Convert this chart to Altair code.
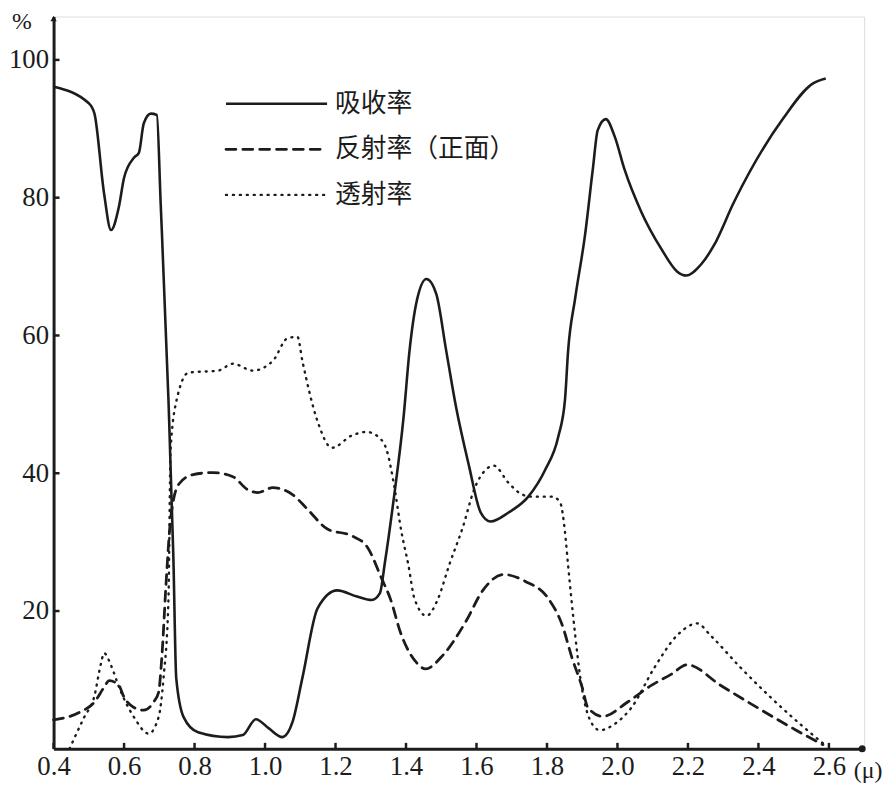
import altair as alt
import pandas as pd

# ---- data ----
abs_x = [0.40, 0.50, 0.516, 0.543, 0.563, 0.585, 0.600, 0.628, 0.642, 0.656, 0.676, 0.693,
         0.704, 0.726, 0.740, 0.748, 0.769, 0.810, 0.895, 0.937, 0.974, 1.010, 1.049, 1.078,
         1.106, 1.149, 1.205, 1.261, 1.303, 1.326, 1.340, 1.365, 1.393, 1.410, 1.430, 1.458,
         1.486, 1.514, 1.542, 1.579, 1.612, 1.640, 1.691, 1.747, 1.795, 1.832, 1.851, 1.860,
         1.880, 1.908, 1.930, 1.944, 1.967, 1.992, 2.020, 2.068, 2.124, 2.169, 2.195,
         2.237, 2.274, 2.330, 2.470, 2.555, 2.591]
abs_y = [96.1, 93.7, 92.2, 80.7, 75.3, 78.6, 82.9, 85.8, 86.5, 90.8, 92.2, 92.0,
         79.0, 50.6, 27.6, 10.3, 4.6, 2.4, 1.7, 2.0, 4.3, 3.0, 1.7, 3.9,
         10.3, 20.4, 23.0, 22.1, 21.6, 22.6, 27.0, 36.2, 48.1, 57.8, 64.9, 68.2,
         66.0, 57.8, 49.6, 41.0, 34.3, 33.0, 34.3, 36.6, 40.5, 45.3, 50.6, 57.8,
         65.4, 74.6, 84.1, 89.8, 91.4, 88.9, 84.1, 77.9, 72.6, 69.3, 68.7,
         70.3, 73.1, 79.3, 91.5, 96.6, 97.3]

ref_x = [0.40, 0.474, 0.516, 0.543, 0.558, 0.585, 0.600, 0.628, 0.656, 0.684, 0.698, 0.707,
         0.720, 0.732, 0.755, 0.796, 0.853, 0.909, 0.951, 0.979, 1.022, 1.078, 1.120, 1.177,
         1.247, 1.290, 1.331, 1.354, 1.387, 1.430, 1.455, 1.505, 1.570, 1.618, 1.677, 1.739,
         1.804, 1.843, 1.871, 1.900, 1.916, 1.958, 2.029, 2.096, 2.152, 2.198, 2.293, 2.406,
         2.507, 2.583]
ref_y = [4.2, 5.3, 6.8, 8.9, 9.9, 9.2, 7.5, 6.0, 5.6, 6.8, 8.2, 13.2,
         24.7, 33.3, 38.4, 39.8, 40.1, 39.5, 37.6, 37.2, 37.9, 36.9, 34.8, 31.9,
         30.9, 29.3, 24.7, 22.0, 16.5, 12.5, 11.6, 13.6, 18.5, 23.0, 25.3, 24.3,
         21.8, 18.0, 13.2, 8.9, 6.0, 4.7, 6.8, 9.2, 10.8, 12.2, 9.2, 5.7,
         2.7, 0.6]

tra_x = [0.445, 0.487, 0.515, 0.535, 0.543, 0.563, 0.586, 0.628, 0.670, 0.698, 0.712, 0.726,
         0.732, 0.749, 0.783, 0.867, 0.909, 0.965, 1.022, 1.064, 1.092, 1.106, 1.148, 1.190,
         1.247, 1.289, 1.331, 1.345, 1.365, 1.387, 1.407, 1.424, 1.458, 1.491, 1.522, 1.562,
         1.593, 1.626, 1.649, 1.691, 1.730, 1.759, 1.815, 1.837, 1.851, 1.860, 1.874, 1.900,
         1.922, 1.950, 1.992, 2.040, 2.105, 2.170, 2.226, 2.265, 2.349, 2.434, 2.518, 2.588]
tra_y = [0.0, 4.6, 7.5, 12.5, 13.9, 12.1, 8.9, 4.6, 2.2, 4.6, 10.3, 21.8,
         43.4, 50.6, 54.6, 54.9, 55.9, 54.9, 56.3, 59.6, 59.8, 56.3, 47.7, 43.7,
         45.5, 46.0, 44.8, 43.4, 38.6, 31.5, 26.6, 21.8, 19.3, 21.8, 26.6, 32.3,
         37.6, 40.5, 41.1, 38.6, 36.9, 36.6, 36.6, 35.8, 31.5, 26.6, 19.4, 8.5,
         4.2, 2.7, 3.6, 6.0, 11.8, 16.5, 18.2, 16.4, 11.8, 7.5, 3.6, 0.6]

series_names = ["吸收率", "反射率（正面）", "透射率"]
x_ticks = [0.4, 0.6, 0.8, 1.0, 1.2, 1.4, 1.6, 1.8, 2.0, 2.2, 2.4, 2.6]
y_ticks = [20, 40, 60, 80, 100]
y_unit = "%"
x_unit = "(μ)"

# ---- layout ----
W, H = 818, 739
X_DOM = [0.4, 2.7]
Y_DOM = [0, 106.3]
INK = "#1c1c1c"
NUM_FONT = "'Liberation Serif', 'DejaVu Serif', serif"
CJK_FONT = "Noto Sans CJK SC"

xs = alt.Scale(domain=X_DOM, nice=False, zero=False)
ys = alt.Scale(domain=Y_DOM, nice=False, zero=False)

def series_chart(xv, yv, dash, width):
    df = pd.DataFrame({"x": xv, "y": yv})
    mark_kwargs = dict(color=INK, strokeWidth=width, interpolate="monotone")
    if dash:
        mark_kwargs["strokeDash"] = dash
        mark_kwargs["strokeCap"] = "round"
    return alt.Chart(df).mark_line(**mark_kwargs).encode(
        x=alt.X("x:Q", scale=xs,
                axis=alt.Axis(values=x_ticks, format=".1f", title=None, grid=False,
                              ticks=False, domainColor=INK, domainWidth=3,
                              labelFont=NUM_FONT, labelFontSize=27, labelColor=INK,
                              labelPadding=5, labelFlush=False)),
        y=alt.Y("y:Q", scale=ys,
                axis=alt.Axis(values=y_ticks, title=None, grid=False, ticks=False,
                              domainColor=INK, domainWidth=3,
                              labelFont=NUM_FONT, labelFontSize=27, labelColor=INK,
                              labelPadding=5)),
    )

absorb = series_chart(abs_x, abs_y, None, 2.6)
reflect = series_chart(ref_x, ref_y, [10, 7], 2.8)
trans = series_chart(tra_x, tra_y, [1, 6], 2.4)

# inside tick marks
xt = alt.Chart(pd.DataFrame({"x": x_ticks})).mark_rule(color=INK, strokeWidth=2.5).encode(
    x=alt.X("x:Q", scale=xs), y=alt.value(H), y2=alt.value(H - 6))
yt = alt.Chart(pd.DataFrame({"y": y_ticks})).mark_rule(color=INK, strokeWidth=2.5).encode(
    y=alt.Y("y:Q", scale=ys), x=alt.value(0), x2=alt.value(6))

one = pd.DataFrame({"a": [0]})
arrow_up = alt.Chart(one).mark_point(shape="triangle-up", filled=True, size=40,
                                     color=INK, opacity=1).encode(
    x=alt.value(0), y=alt.value(2))
arrow_right = alt.Chart(one).mark_point(shape="circle", filled=True, size=50,
                                        color=INK, opacity=1).encode(
    x=alt.value(W - 2), y=alt.value(H))

unit_y = alt.Chart(pd.DataFrame({"t": [y_unit]})).mark_text(
    font=NUM_FONT, fontSize=24, color=INK, align="center", baseline="middle").encode(
    text="t:N", x=alt.value(-32), y=alt.value(6))
unit_x = alt.Chart(pd.DataFrame({"t": [x_unit]})).mark_text(
    font=NUM_FONT, fontSize=24, color=INK, align="center", baseline="middle").encode(
    text="t:N", x=alt.value(822), y=alt.value(H + 22))

# legend
leg_x1, leg_x2, leg_tx = 174, 276, 284
leg_ys = [88, 134, 180]
leg_dash = [None, [10, 7], [1, 6]]
leg_w = [2.6, 2.8, 2.4]
legend_layers = []
for name, ly, dash, w in zip(series_names, leg_ys, leg_dash, leg_w):
    kw = dict(color=INK, strokeWidth=w)
    if dash:
        kw["strokeDash"] = dash
        kw["strokeCap"] = "round"
    legend_layers.append(
        alt.Chart(one).mark_rule(**kw).encode(
            x=alt.value(leg_x1), x2=alt.value(leg_x2), y=alt.value(ly)))
    legend_layers.append(
        alt.Chart(pd.DataFrame({"t": [name]})).mark_text(
            font=CJK_FONT, fontSize=26, color=INK, align="left", baseline="middle").encode(
            text="t:N", x=alt.value(leg_tx), y=alt.value(ly)))

chart = alt.layer(absorb, reflect, trans, xt, yt, arrow_up, arrow_right, unit_y, unit_x,
                  *legend_layers).properties(
    width=W, height=H,
    autosize=alt.AutoSizeParams(type="none"),
    padding={"left": 46, "top": 5, "right": 18, "bottom": 40},
).configure_view(stroke=None).configure(background="white")

chart.save("out.html", embed_options={"renderer": "svg", "actions": False})
